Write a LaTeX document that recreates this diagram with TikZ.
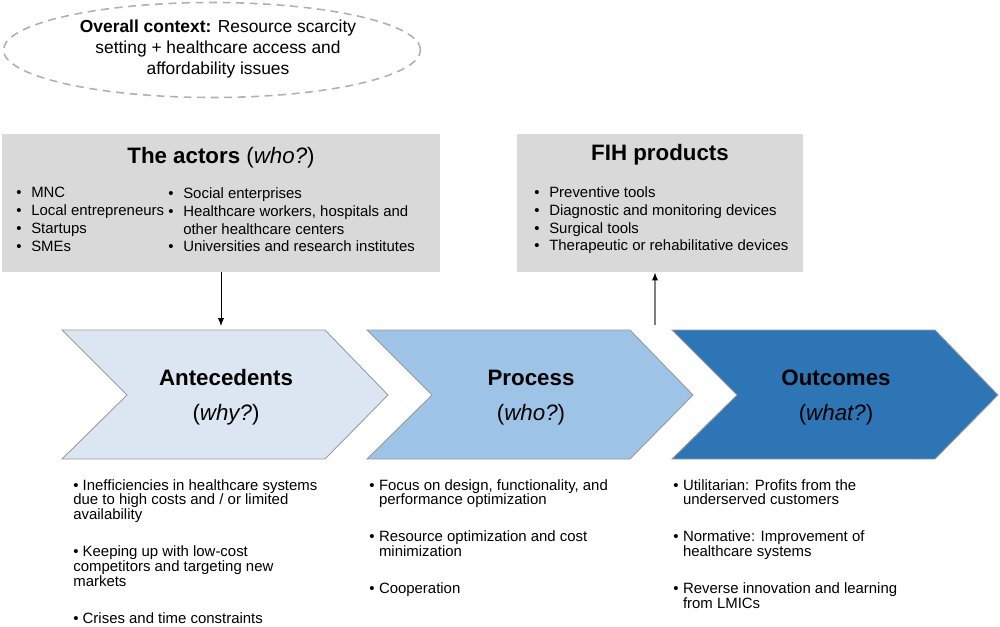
\documentclass[tikz,border=0pt]{standalone}
\usepackage{fontspec}
\setmainfont{Liberation Sans}
\usepackage{tikz}
\usetikzlibrary{arrows.meta}
\usetikzlibrary{positioning}
\usetikzlibrary{shapes.geometric}

\definecolor{boxgray}{HTML}{D9D9D9}
\definecolor{dashgray}{HTML}{B0B0B0}
\definecolor{edgegray}{HTML}{9A9A9A}
\definecolor{antefill}{HTML}{DCE6F2}
\definecolor{procfill}{HTML}{9DC3E6}
\definecolor{outcfill}{HTML}{2E75B6}

\newcommand{\listbul}[1]{\makebox[#1][l]{\textbullet}}

\tikzset{
	graybox/.style={fill=boxgray, inner sep=0pt, minimum height=2.76cm},
	boxtitle/.style={inner sep=0pt, font=\fontsize{12.7}{15}\selectfont},
	boxlist/.style={inner sep=0pt, anchor=north west, align=left, font=\fontsize{8.5}{10.2}\selectfont},
	steplist/.style={inner sep=0pt, anchor=north west, align=left, font=\fontsize{8.5}{8.4}\selectfont},
	chevron/.style={draw=edgegray, line width=0.5pt},
	chevtitle/.style={inner sep=0pt, font=\fontsize{12.7}{15}\selectfont\bfseries},
	chevquest/.style={inner sep=0pt, font=\fontsize{12.7}{15}\selectfont}
}

\begin{document}
\begin{tikzpicture}[x=0.02cm,y=-0.02cm]
		\useasboundingbox (0,0) rectangle (1000,626);
		% context
		\path
		(212,50) node[ellipse, draw=dashgray, dash pattern=on 4.5pt off 3.2pt, line width=0.9pt,
			minimum width=8.34cm, minimum height=1.9cm, inner sep=0pt](context) {}
		(218,49) node[align=center, inner sep=0pt,
			font=\fontsize{9.9}{12.2}\selectfont](contexttext)
			{\textbf{Overall context:} Resource scarcity\\setting + healthcare access and\\affordability issues};
		% upper boxes
		\path
		(221,203) node[graybox, minimum width=8.76cm](actors) {}
		(660,203) node[graybox, minimum width=5.72cm](fih) {}
		(221,158) node[boxtitle](actorstitle) {\textbf{The actors} (\textit{who?})}
		(660,155) node[boxtitle](fihtitle) {\textbf{FIH products}}
		(16,187) node[boxlist](actorsleft)
			{\listbul{8.5pt}MNC\\\listbul{8.5pt}Local entrepreneurs\\\listbul{8.5pt}Startups\\\listbul{8.5pt}SMEs}
		(168,187) node[boxlist](actorsright)
			{\listbul{8.5pt}Social enterprises\\\listbul{8.5pt}Healthcare workers, hospitals and\\
			\hspace*{8.5pt}other healthcare centers\\\listbul{8.5pt}Universities and research institutes}
		(534,186) node[boxlist](fihlist)
			{\listbul{8.5pt}Preventive tools\\\listbul{8.5pt}Diagnostic and monitoring devices\\
			\listbul{8.5pt}Surgical tools\\\listbul{8.5pt}Therapeutic or rehabilitative devices};
		% chevrons
		\coordinate (c1) at (62,330);
		\coordinate (c2) at (367,330);
		\coordinate (c3) at (672,330);
		\filldraw[chevron, fill=antefill] (c1) -- ++(263,0) -- ++(63,65) -- ++(-63,64) -- ++(-263,0) -- ++(65,-64) -- cycle;
		\filldraw[chevron, fill=procfill] (c2) -- ++(263,0) -- ++(63,65) -- ++(-63,64) -- ++(-263,0) -- ++(65,-64) -- cycle;
		\filldraw[chevron, fill=outcfill] (c3) -- ++(263,0) -- ++(63,65) -- ++(-63,64) -- ++(-263,0) -- ++(65,-64) -- cycle;
		\path
		(226,378) node[chevtitle](ante) {Antecedents}
		(226,415) node[chevquest](antewhy) {(\textit{why?})}
		(531,378) node[chevtitle](proc) {Process}
		(531,415) node[chevquest](procwho) {(\textit{who?})}
		(836,378) node[chevtitle](outc) {Outcomes}
		(836,415) node[chevquest](outcwhat) {(\textit{what?})};
		% arrows
		\coordinate (antetop) at (220,326);
		\coordinate (procout) at (655,325);
		\draw[line width=0.45pt, -{Latex[length=4.5pt, width=3.5pt]}] (actors.south) -- (actors.south |- antetop);
		\draw[draw=gray, line width=0.8pt, -{Latex[length=4.5pt, width=3.5pt, black]}] (procout) -- (procout |- fih.south);
		% lists below
		\path
		(73,479) node[steplist](antelist)
			{\textbullet\ Inefficiencies in healthcare systems\\due to high costs and / or limited\\availability\\[12.6pt]
			\textbullet\ Keeping up with low-cost\\competitors and targeting new\\markets\\[12.6pt]
			\textbullet\ Crises and time constraints}
		(369,479) node[steplist](proclist)
			{\listbul{5.5pt}Focus on design, functionality, and\\\hspace*{5.5pt}performance optimization\\[12.6pt]
			\listbul{5.5pt}Resource optimization and cost\\\hspace*{5.5pt}minimization\\[12.6pt]
			\listbul{5.5pt}Cooperation}
		(673,479) node[steplist](outclist)
			{\listbul{5.5pt}Utilitarian: Profits from the\\\hspace*{5.5pt}underserved customers\\[12.6pt]
			\listbul{5.5pt}Normative: Improvement of\\\hspace*{5.5pt}healthcare systems\\[12.6pt]
			\listbul{5.5pt}Reverse innovation and learning\\\hspace*{5.5pt}from LMICs};
	\end{tikzpicture}
\end{document}
